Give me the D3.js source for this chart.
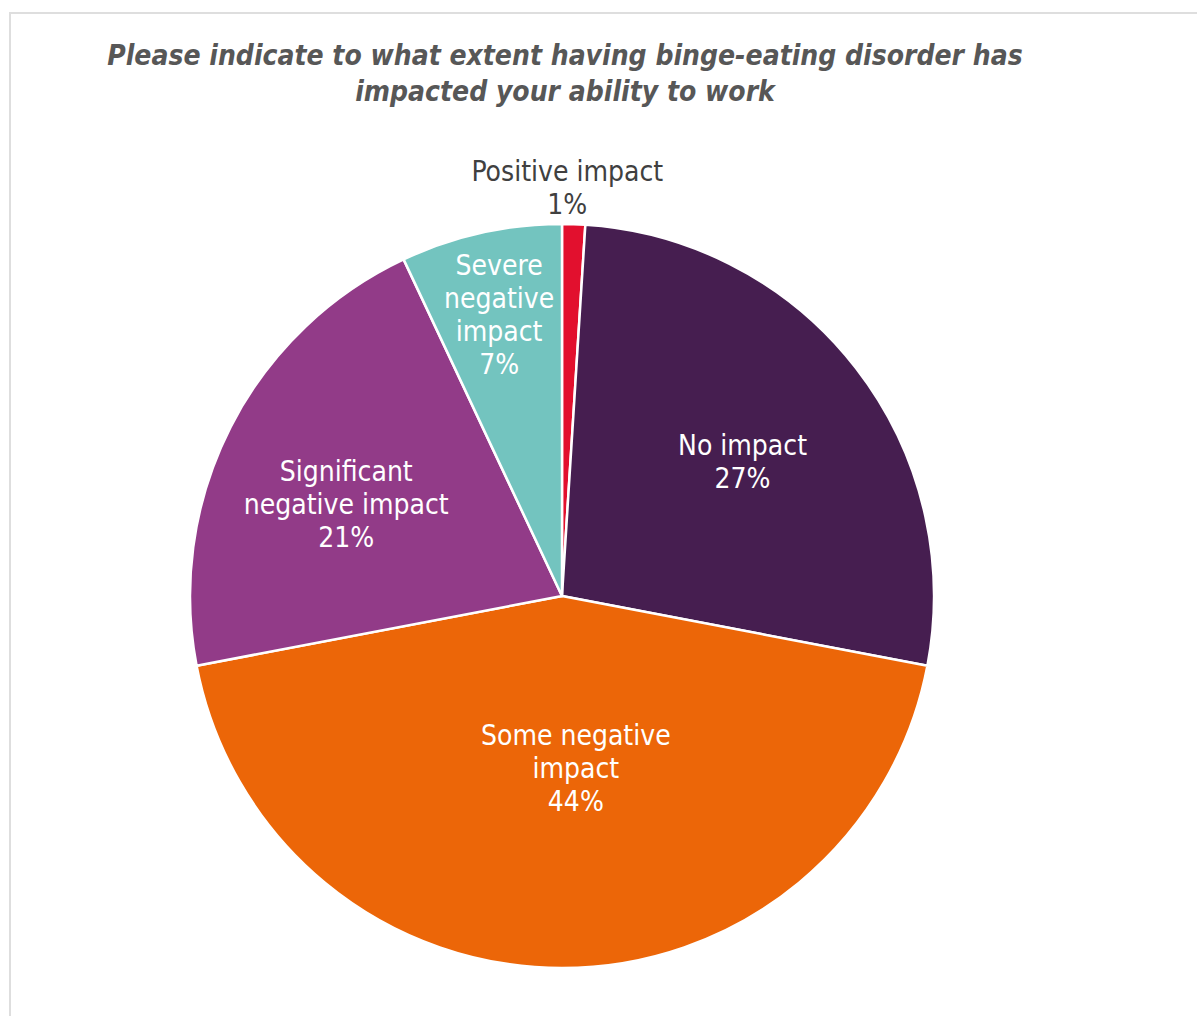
<!DOCTYPE html>
<html>
<head>
<meta charset="utf-8">
<script src="https://cdn.jsdelivr.net/npm/d3@7"></script>
<style>
  html, body { margin: 0; padding: 0; background: #fff; }
  svg { display: block; }
  text { font-family: "DejaVu Sans Condensed", "DejaVu Sans", sans-serif; font-stretch: condensed; }
</style>
</head>
<body>
<script>
// Survey answers, clockwise from 12 o'clock
const categories = ["Positive impact", "No impact", "Some negative impact", "Significant negative impact", "Severe negative impact"];
const values = [1, 27, 44, 21, 7];
const colors = ["#e2102e", "#461e50", "#ec6608", "#923b88", "#73c4bf"];
// Label text lines for each slice (percent appended as the last line)
const labelLines = [
  ["Positive impact"],
  ["No impact"],
  ["Some negative", "impact"],
  ["Significant", "negative impact"],
  ["Severe", "negative", "impact"]
];
const titleLines = [
  "Please indicate to what extent having binge-eating disorder has",
  "impacted your ability to work"
];

const W = 1197, H = 1016;
const cx = 562, cy = 596, R = 372;

const svg = d3.select("body").append("svg").attr("width", W).attr("height", H);

// Chart frame
svg.append("rect")
  .attr("x", 10).attr("y", 13).attr("width", W + 20).attr("height", H + 20)
  .attr("fill", "none").attr("stroke", "#dedede").attr("stroke-width", 2);

// Title
svg.append("g").selectAll("text").data(titleLines).join("text")
  .attr("x", 565).attr("y", (d, i) => 65 + i * 36)
  .attr("text-anchor", "middle")
  .attr("font-size", 28).attr("font-weight", "bold").attr("font-style", "italic")
  .attr("fill", "#575757")
  .text(d => d);

const data = categories.map((c, i) => ({ name: c, value: values[i], color: colors[i], lines: labelLines[i] }));

const pie = d3.pie().value(d => d.value).sort(null);
const arcs = pie(data);
const arc = d3.arc().innerRadius(0).outerRadius(R);

const g = svg.append("g").attr("transform", `translate(${cx},${cy})`);

g.selectAll("path").data(arcs).join("path")
  .attr("d", arc)
  .attr("fill", d => d.data.color)
  .attr("stroke", "#fff").attr("stroke-width", 2.5).attr("stroke-linejoin", "round");

// Label placement: radial fraction and angular nudge (radians) per slice
const labelPlace = [
  { r: 1.054, da: -0.018 },
  { r: 0.605, da: 0.02 },
  { r: 0.465, da: -0.08 },
  { r: 0.63, da: -0.07 },
  { r: 0.775, da: 0 }
];
const lineH = 33;

g.selectAll("g.lbl").data(arcs).join("g").attr("class", "lbl")
  .each(function (d, i) {
    const p = labelPlace[i];
    const a = (d.startAngle + d.endAngle) / 2 + p.da;
    const rr = R * p.r;
    const x = Math.sin(a) * rr, y = -Math.cos(a) * rr;
    const lines = d.data.lines.concat([d.data.value + "%"]);
    const outside = p.r > 1;
    const n = lines.length;
    const top = outside ? y - (n - 1) * lineH : y - (n - 1) * lineH / 2;
    d3.select(this).selectAll("text").data(lines).join("text")
      .attr("x", x)
      .attr("y", (t, j) => top + j * lineH)
      .attr("dy", "0.35em")
      .attr("text-anchor", "middle")
      .attr("font-size", 28)
      .attr("fill", outside ? "#404040" : "#ffffff")
      .text(t => t);
  });
</script>
</body>
</html>
